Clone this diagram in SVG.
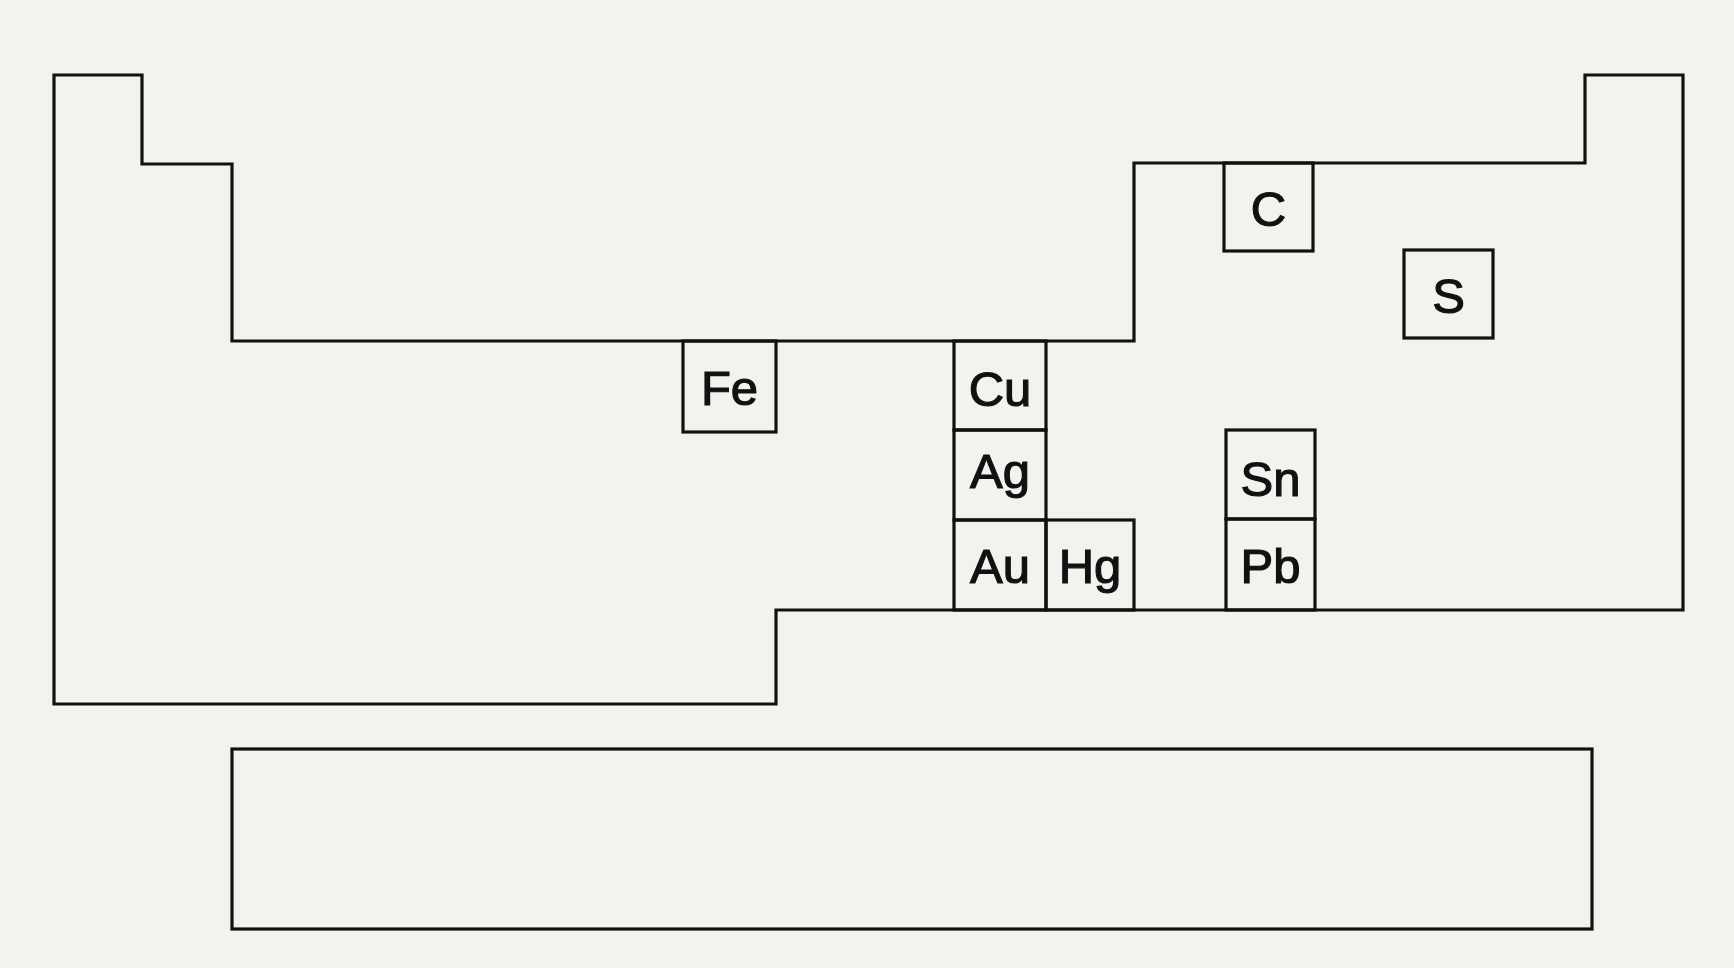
<svg xmlns="http://www.w3.org/2000/svg" width="1734" height="968" viewBox="0 0 1734 968">
<style>
.ln{fill:none;stroke:#111;stroke-width:3.2;stroke-linejoin:miter}
.bx{fill:none;stroke:#111;stroke-width:3.2}
.t{font-family:"Liberation Sans","DejaVu Sans",sans-serif;font-size:49px;fill:#111;stroke:#111;stroke-width:1.2;text-anchor:middle}
</style>
<rect x="0" y="0" width="1734" height="968" fill="#f2f2ee"/>
<g id="outline">
<path class="ln" d="M54,75 H142 V164 H232 V341 H1134 V163 H1585 V75 H1683 V610 H776 V704 H54 Z"/>
</g>
<g id="lower-block">
<rect class="bx" x="232" y="749" width="1360" height="180"/>
</g>
<g id="Fe"><rect class="bx" x="683" y="341" width="93" height="91"/><text class="t" x="729.5" y="405">Fe</text></g>
<g id="Cu"><rect class="bx" x="954" y="341" width="92" height="89"/><text class="t" x="1000" y="406">Cu</text></g>
<g id="Ag"><rect class="bx" x="954" y="430" width="92" height="90"/><text class="t" x="1000" y="488">Ag</text></g>
<g id="Au"><rect class="bx" x="954" y="520" width="92" height="90"/><text class="t" x="1000" y="583">Au</text></g>
<g id="Hg"><rect class="bx" x="1046" y="520" width="88" height="90"/><text class="t" x="1090" y="583">Hg</text></g>
<g id="C"><rect class="bx" x="1224" y="163" width="89" height="88"/><text class="t" x="1268.5" y="226">C</text></g>
<g id="S"><rect class="bx" x="1404" y="250" width="89" height="88"/><text class="t" x="1448.5" y="313">S</text></g>
<g id="Sn"><rect class="bx" x="1226" y="430" width="89" height="89"/><text class="t" x="1270.5" y="496">Sn</text></g>
<g id="Pb"><rect class="bx" x="1226" y="519" width="89" height="91"/><text class="t" x="1270.5" y="583">Pb</text></g>
<g id="connectors"></g>
</svg>
